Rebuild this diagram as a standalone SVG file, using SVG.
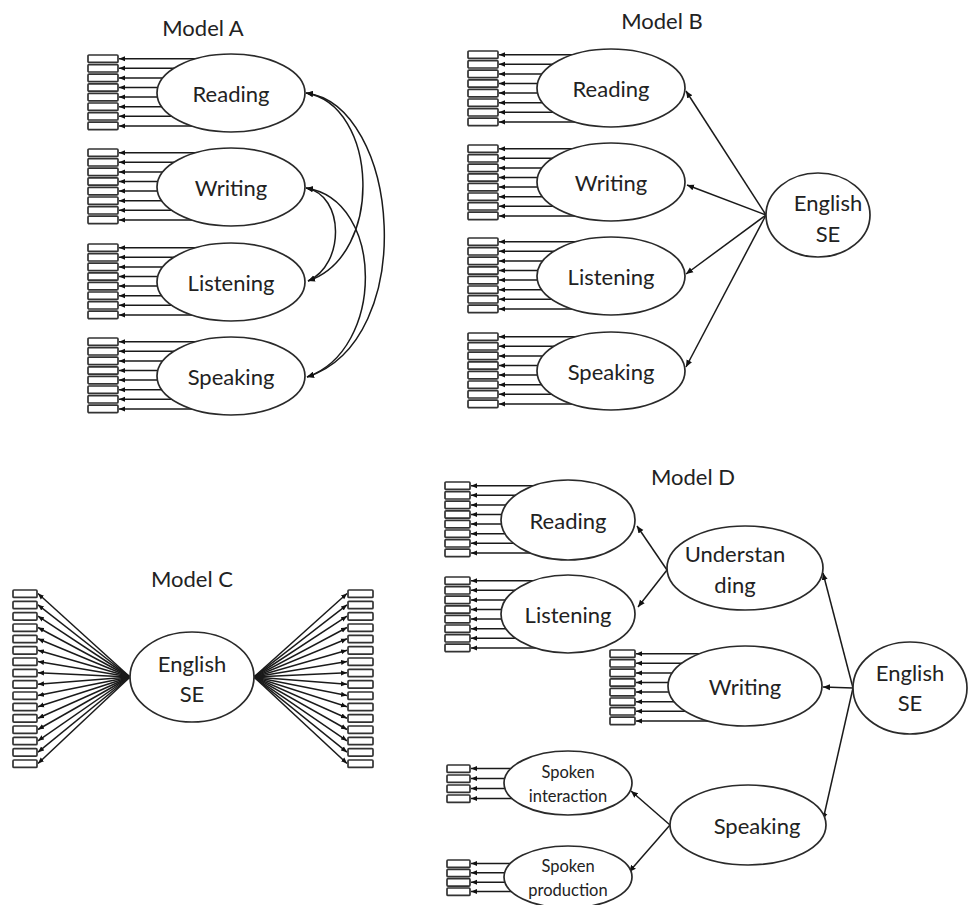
<svg xmlns="http://www.w3.org/2000/svg" xmlns:xlink="http://www.w3.org/1999/xlink" width="970" height="905" viewBox="0 0 970 905">
<style>
.ell{fill:#fff;stroke:#2a2a2a;stroke-width:1.7}
.ind{fill:#fff;stroke:#333;stroke-width:1.7}
.ln{stroke:#1a1a1a;stroke-width:1.5;fill:none}
.lbl{font-family:Lato,"Open Sans",sans-serif;font-size:22px;fill:#222;text-anchor:middle;dominant-baseline:central}
.sm{font-size:16.5px}
.title{font-family:Lato,"Open Sans",sans-serif;font-size:22px;fill:#222;text-anchor:middle;dominant-baseline:central}
</style>
<defs>
<marker id="ah" markerUnits="userSpaceOnUse" markerWidth="8" markerHeight="7" refX="7" refY="3" orient="auto-start-reverse" viewBox="0 0 8 6"><path d="M0,0 L7,3 L0,6 z" fill="#111"/></marker>
<marker id="ahs" markerUnits="userSpaceOnUse" markerWidth="7" markerHeight="6" refX="6" refY="2.5" orient="auto" viewBox="0 0 7 5"><path d="M0,0 L6,2.5 L0,5 z" fill="#111"/></marker>
<g id="stack30">
<rect class="ind" x="0" y="0" width="30" height="7.4" rx="1"/><rect class="ind" x="0" y="9.6" width="30" height="7.4" rx="1"/>
<rect class="ind" x="0" y="19.2" width="30" height="7.4" rx="1"/><rect class="ind" x="0" y="28.8" width="30" height="7.4" rx="1"/>
<rect class="ind" x="0" y="38.4" width="30" height="7.4" rx="1"/><rect class="ind" x="0" y="48" width="30" height="7.4" rx="1"/>
<rect class="ind" x="0" y="57.6" width="30" height="7.4" rx="1"/><rect class="ind" x="0" y="67.2" width="30" height="7.4" rx="1"/>
</g>
<g id="stack25">
<rect class="ind" x="0" y="0" width="25" height="7.4" rx="1"/><rect class="ind" x="0" y="9.6" width="25" height="7.4" rx="1"/>
<rect class="ind" x="0" y="19.2" width="25" height="7.4" rx="1"/><rect class="ind" x="0" y="28.8" width="25" height="7.4" rx="1"/>
<rect class="ind" x="0" y="38.4" width="25" height="7.4" rx="1"/><rect class="ind" x="0" y="48" width="25" height="7.4" rx="1"/>
<rect class="ind" x="0" y="57.6" width="25" height="7.4" rx="1"/><rect class="ind" x="0" y="67.2" width="25" height="7.4" rx="1"/>
</g>
<g id="fan30" class="ln" marker-end="url(#ahs)">
<line x1="130" y1="3.7" x2="31" y2="3.7"/><line x1="130" y1="13.3" x2="31" y2="13.3"/>
<line x1="130" y1="22.9" x2="31" y2="22.9"/><line x1="130" y1="32.5" x2="31" y2="32.5"/>
<line x1="130" y1="42.1" x2="31" y2="42.1"/><line x1="130" y1="51.7" x2="31" y2="51.7"/>
<line x1="130" y1="61.3" x2="31" y2="61.3"/><line x1="130" y1="70.9" x2="31" y2="70.9"/>
</g>
<g id="fan25" class="ln" marker-end="url(#ahs)">
<line x1="120" y1="3.7" x2="26" y2="3.7"/><line x1="120" y1="13.3" x2="26" y2="13.3"/>
<line x1="120" y1="22.9" x2="26" y2="22.9"/><line x1="120" y1="32.5" x2="26" y2="32.5"/>
<line x1="120" y1="42.1" x2="26" y2="42.1"/><line x1="120" y1="51.7" x2="26" y2="51.7"/>
<line x1="120" y1="61.3" x2="26" y2="61.3"/><line x1="120" y1="70.9" x2="26" y2="70.9"/>
</g>
</defs>
<rect width="970" height="905" fill="#fff"/>

<g id="titles">
<text class="title" x="203" y="27">Model A</text>
<text class="title" x="662" y="20">Model B</text>
<text class="title" x="192" y="578">Model C</text>
<text class="title" x="693" y="476">Model D</text>
</g>

<g id="connectors">
<use href="#fan30" transform="translate(88,55)"/>
<use href="#fan30" transform="translate(88,149)"/>
<use href="#fan30" transform="translate(88,244)"/>
<use href="#fan30" transform="translate(88,338)"/>
<g class="ln" marker-start="url(#ah)" marker-end="url(#ah)">
<path d="M306,93 C400,105 420,340 307,377"/>
<path d="M306,93 C378,105 385,255 308,281"/>
<path d="M306,188 C345,195 345,265 308,281"/>
<path d="M306,188 C385,200 385,350 307,377"/>
</g>
<use href="#fan30" transform="translate(468,51)"/>
<use href="#fan30" transform="translate(468,145)"/>
<use href="#fan30" transform="translate(468,238)"/>
<use href="#fan30" transform="translate(468,333)"/>
<g class="ln" marker-end="url(#ah)">
<line x1="766" y1="215" x2="686" y2="91"/>
<line x1="766" y1="215" x2="687" y2="185"/>
<line x1="766" y1="215" x2="686" y2="274"/>
<line x1="766" y1="215" x2="686" y2="367"/>
</g>
<g class="ln" stroke-width="1.3" marker-end="url(#ahs)">
<line x1="130" y1="677" x2="38" y2="593.5"/><line x1="130" y1="677" x2="38" y2="604.8"/>
<line x1="130" y1="677" x2="38" y2="616.2"/><line x1="130" y1="677" x2="38" y2="627.5"/>
<line x1="130" y1="677" x2="38" y2="638.8"/><line x1="130" y1="677" x2="38" y2="650.2"/>
<line x1="130" y1="677" x2="38" y2="661.5"/><line x1="130" y1="677" x2="38" y2="672.8"/>
<line x1="130" y1="677" x2="38" y2="684.2"/><line x1="130" y1="677" x2="38" y2="695.5"/>
<line x1="130" y1="677" x2="38" y2="706.8"/><line x1="130" y1="677" x2="38" y2="718.2"/>
<line x1="130" y1="677" x2="38" y2="729.5"/><line x1="130" y1="677" x2="38" y2="740.8"/>
<line x1="130" y1="677" x2="38" y2="752.2"/><line x1="130" y1="677" x2="38" y2="763.5"/>
<line x1="254" y1="677" x2="347" y2="593.5"/><line x1="254" y1="677" x2="347" y2="604.8"/>
<line x1="254" y1="677" x2="347" y2="616.2"/><line x1="254" y1="677" x2="347" y2="627.5"/>
<line x1="254" y1="677" x2="347" y2="638.8"/><line x1="254" y1="677" x2="347" y2="650.2"/>
<line x1="254" y1="677" x2="347" y2="661.5"/><line x1="254" y1="677" x2="347" y2="672.8"/>
<line x1="254" y1="677" x2="347" y2="684.2"/><line x1="254" y1="677" x2="347" y2="695.5"/>
<line x1="254" y1="677" x2="347" y2="706.8"/><line x1="254" y1="677" x2="347" y2="718.2"/>
<line x1="254" y1="677" x2="347" y2="729.5"/><line x1="254" y1="677" x2="347" y2="740.8"/>
<line x1="254" y1="677" x2="347" y2="752.2"/><line x1="254" y1="677" x2="347" y2="763.5"/>
</g>
<use href="#fan25" transform="translate(445,482)"/>
<use href="#fan25" transform="translate(445,577)"/>
<use href="#fan25" transform="translate(610,650)"/>
<g class="ln" marker-end="url(#ahs)">
<line x1="540" y1="768.5" x2="471" y2="768.5"/><line x1="540" y1="778.5" x2="471" y2="778.5"/>
<line x1="540" y1="788.5" x2="471" y2="788.5"/><line x1="540" y1="798.5" x2="471" y2="798.5"/>
<line x1="540" y1="863.5" x2="471" y2="863.5"/><line x1="540" y1="872.8" x2="471" y2="872.8"/>
<line x1="540" y1="882.2" x2="471" y2="882.2"/><line x1="540" y1="891.5" x2="471" y2="891.5"/>
</g>
<g class="ln" marker-end="url(#ah)">
<line x1="853" y1="688" x2="823" y2="573"/>
<line x1="853" y1="688" x2="823" y2="687"/>
<line x1="853" y1="688" x2="823" y2="820"/>
<line x1="667" y1="570" x2="637" y2="526"/>
<line x1="667" y1="570" x2="638" y2="607"/>
<line x1="670" y1="825" x2="631" y2="791"/>
<line x1="670" y1="825" x2="629" y2="872"/>
</g>
</g>

<g id="A-reading"><use href="#stack30" transform="translate(88,55)"/><ellipse class="ell" cx="231" cy="93" rx="74" ry="39"/><text class="lbl" x="231" y="93">Reading</text></g>
<g id="A-writing"><use href="#stack30" transform="translate(88,149)"/><ellipse class="ell" cx="231" cy="187" rx="74" ry="39"/><text class="lbl" x="231" y="187">Writing</text></g>
<g id="A-listening"><use href="#stack30" transform="translate(88,244)"/><ellipse class="ell" cx="231" cy="282" rx="74" ry="39"/><text class="lbl" x="231" y="282">Listening</text></g>
<g id="A-speaking"><use href="#stack30" transform="translate(88,338)"/><ellipse class="ell" cx="231" cy="376" rx="74" ry="39"/><text class="lbl" x="231" y="376">Speaking</text></g>

<g id="B-reading"><use href="#stack30" transform="translate(468,51)"/><ellipse class="ell" cx="611" cy="88" rx="74" ry="39"/><text class="lbl" x="611" y="88">Reading</text></g>
<g id="B-writing"><use href="#stack30" transform="translate(468,145)"/><ellipse class="ell" cx="611" cy="182" rx="74" ry="39"/><text class="lbl" x="611" y="182">Writing</text></g>
<g id="B-listening"><use href="#stack30" transform="translate(468,238)"/><ellipse class="ell" cx="611" cy="276" rx="74" ry="39"/><text class="lbl" x="611" y="276">Listening</text></g>
<g id="B-speaking"><use href="#stack30" transform="translate(468,333)"/><ellipse class="ell" cx="611" cy="371" rx="74" ry="39"/><text class="lbl" x="611" y="371">Speaking</text></g>
<g id="B-english"><ellipse class="ell" cx="818" cy="215" rx="52" ry="42"/><text class="lbl" x="828" y="202">English</text><text class="lbl" x="828" y="233">SE</text></g>

<g id="C-indicators-left">
<rect class="ind" x="13" y="590" width="24" height="7.4" rx="1"/><rect class="ind" x="13" y="601.3" width="24" height="7.4" rx="1"/>
<rect class="ind" x="13" y="612.7" width="24" height="7.4" rx="1"/><rect class="ind" x="13" y="624" width="24" height="7.4" rx="1"/>
<rect class="ind" x="13" y="635.3" width="24" height="7.4" rx="1"/><rect class="ind" x="13" y="646.7" width="24" height="7.4" rx="1"/>
<rect class="ind" x="13" y="658" width="24" height="7.4" rx="1"/><rect class="ind" x="13" y="669.3" width="24" height="7.4" rx="1"/>
<rect class="ind" x="13" y="680.7" width="24" height="7.4" rx="1"/><rect class="ind" x="13" y="692" width="24" height="7.4" rx="1"/>
<rect class="ind" x="13" y="703.3" width="24" height="7.4" rx="1"/><rect class="ind" x="13" y="714.7" width="24" height="7.4" rx="1"/>
<rect class="ind" x="13" y="726" width="24" height="7.4" rx="1"/><rect class="ind" x="13" y="737.3" width="24" height="7.4" rx="1"/>
<rect class="ind" x="13" y="748.7" width="24" height="7.4" rx="1"/><rect class="ind" x="13" y="760" width="24" height="7.4" rx="1"/>
</g>
<g id="C-indicators-right">
<rect class="ind" x="348" y="590" width="25" height="7.4" rx="1"/><rect class="ind" x="348" y="601.3" width="25" height="7.4" rx="1"/>
<rect class="ind" x="348" y="612.7" width="25" height="7.4" rx="1"/><rect class="ind" x="348" y="624" width="25" height="7.4" rx="1"/>
<rect class="ind" x="348" y="635.3" width="25" height="7.4" rx="1"/><rect class="ind" x="348" y="646.7" width="25" height="7.4" rx="1"/>
<rect class="ind" x="348" y="658" width="25" height="7.4" rx="1"/><rect class="ind" x="348" y="669.3" width="25" height="7.4" rx="1"/>
<rect class="ind" x="348" y="680.7" width="25" height="7.4" rx="1"/><rect class="ind" x="348" y="692" width="25" height="7.4" rx="1"/>
<rect class="ind" x="348" y="703.3" width="25" height="7.4" rx="1"/><rect class="ind" x="348" y="714.7" width="25" height="7.4" rx="1"/>
<rect class="ind" x="348" y="726" width="25" height="7.4" rx="1"/><rect class="ind" x="348" y="737.3" width="25" height="7.4" rx="1"/>
<rect class="ind" x="348" y="748.7" width="25" height="7.4" rx="1"/><rect class="ind" x="348" y="760" width="25" height="7.4" rx="1"/>
</g>
<g id="C-english"><ellipse class="ell" cx="192" cy="677" rx="62" ry="45"/><text class="lbl" x="192" y="663">English</text><text class="lbl" x="192" y="693">SE</text></g>

<g id="D-reading"><use href="#stack25" transform="translate(445,482)"/><ellipse class="ell" cx="568" cy="520" rx="67" ry="40"/><text class="lbl" x="568" y="520">Reading</text></g>
<g id="D-listening"><use href="#stack25" transform="translate(445,577)"/><ellipse class="ell" cx="568" cy="614" rx="67" ry="39"/><text class="lbl" x="568" y="614">Listening</text></g>
<g id="D-understanding"><ellipse class="ell" cx="745" cy="568" rx="78" ry="42"/><text class="lbl" x="735" y="553">Understan</text><text class="lbl" x="735" y="584">ding</text></g>
<g id="D-writing"><use href="#stack25" transform="translate(610,650)"/><ellipse class="ell" cx="745" cy="686" rx="77" ry="40"/><text class="lbl" x="745" y="686">Writing</text></g>
<g id="D-english"><ellipse class="ell" cx="910" cy="688" rx="57" ry="46"/><text class="lbl" x="910" y="672">English</text><text class="lbl" x="910" y="702">SE</text></g>
<g id="D-speaking"><ellipse class="ell" cx="748" cy="825" rx="78" ry="40"/><text class="lbl" x="757" y="825">Speaking</text></g>
<g id="D-spoken-interaction">
<rect class="ind" x="447" y="765" width="23" height="7.4" rx="1"/><rect class="ind" x="447" y="775" width="23" height="7.4" rx="1"/>
<rect class="ind" x="447" y="785" width="23" height="7.4" rx="1"/><rect class="ind" x="447" y="795" width="23" height="7.4" rx="1"/>
<ellipse class="ell" cx="568" cy="783" rx="64" ry="32"/><text class="lbl sm" x="568" y="772">Spoken</text><text class="lbl sm" x="568" y="796">interaction</text></g>
<g id="D-spoken-production">
<rect class="ind" x="447" y="860" width="23" height="7.4" rx="1"/><rect class="ind" x="447" y="869.3" width="23" height="7.4" rx="1"/>
<rect class="ind" x="447" y="878.7" width="23" height="7.4" rx="1"/><rect class="ind" x="447" y="888" width="23" height="7.4" rx="1"/>
<ellipse class="ell" cx="568" cy="877" rx="64" ry="31"/><text class="lbl sm" x="568" y="866">Spoken</text><text class="lbl sm" x="568" y="890">production</text></g>
</svg>
